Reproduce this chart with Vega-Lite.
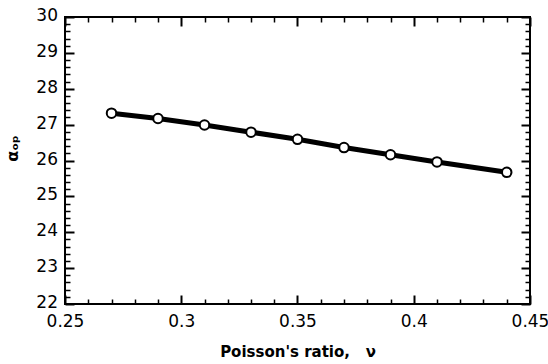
{
  "$schema": "https://vega.github.io/schema/vega-lite/v6.json",
  "width": 465,
  "height": 287,
  "autosize": {"type": "none"},
  "padding": {"left": 65, "top": 17, "right": 18, "bottom": 60},
  "background": "white",
  "config": {
    "view": {"stroke": "black", "strokeWidth": 2},
    "font": "DejaVu Sans",
    "axis": {"grid": false, "domain": false, "tickColor": "black", "labelColor": "black", "titleColor": "black"}
  },
  "data": {
    "values": [
      {"nu": 0.27, "alpha": 27.32},
      {"nu": 0.29, "alpha": 27.17},
      {"nu": 0.31, "alpha": 26.99},
      {"nu": 0.33, "alpha": 26.79},
      {"nu": 0.35, "alpha": 26.59},
      {"nu": 0.37, "alpha": 26.36},
      {"nu": 0.39, "alpha": 26.16},
      {"nu": 0.41, "alpha": 25.96},
      {"nu": 0.44, "alpha": 25.67}
    ]
  },
  "resolve": {"axis": {"x": "independent", "y": "independent"}},
  "layer": [
    {
      "mark": {"type": "line", "color": "black", "strokeWidth": 5},
      "encoding": {
        "x": {"field": "nu", "type": "quantitative", "scale": {"domain": [0.25, 0.45], "nice": false, "zero": false},
          "axis": {"orient": "bottom", "values": [0.25, 0.3, 0.35, 0.4, 0.45], "format": "~g", "offset": -9, "tickSize": 9, "tickWidth": 2,
            "labelFontSize": 17, "labelPadding": 9, "labelFlush": false, "title": "Poisson's ratio,\u00a0\u00a0\u00a0ν", "titleFontSize": 15, "titleFontWeight": "bold", "titlePadding": 15}},
        "y": {"field": "alpha", "type": "quantitative", "scale": {"domain": [22, 30], "nice": false, "zero": false},
          "axis": {"orient": "left", "values": [22, 23, 24, 25, 26, 27, 28, 29, 30], "offset": -9, "tickSize": 9, "tickWidth": 2,
            "labelFontSize": 17, "labelPadding": 7.5, "labelOffset": -1.5, "title": "αₒₚ", "titleFontSize": 16, "titleFontWeight": "bold", "titlePadding": 15, "titleY": 131}}
      }
    },
    {
      "mark": {"type": "point", "shape": "circle", "filled": true, "fill": "white", "stroke": "black", "strokeWidth": 2, "size": 90, "opacity": 1},
      "encoding": {
        "x": {"field": "nu", "type": "quantitative",
          "axis": {"orient": "bottom", "values": [0.26, 0.27, 0.28, 0.29, 0.31, 0.32, 0.33, 0.34, 0.36, 0.37, 0.38, 0.39, 0.41, 0.42, 0.43, 0.44], "offset": -5, "tickSize": 5, "tickWidth": 1.5, "labels": false, "title": null}},
        "y": {"field": "alpha", "type": "quantitative",
          "axis": {"orient": "left", "values": [22.2, 22.4, 22.6, 22.8, 23.2, 23.4, 23.6, 23.8, 24.2, 24.4, 24.6, 24.8, 25.2, 25.4, 25.6, 25.8, 26.2, 26.4, 26.6, 26.8, 27.2, 27.4, 27.6, 27.8, 28.2, 28.4, 28.6, 28.8, 29.2, 29.4, 29.6, 29.8], "offset": -5, "tickSize": 5, "tickWidth": 1.5, "labels": false, "title": null}}
      }
    },
    {
      "mark": {"type": "point", "opacity": 0},
      "encoding": {
        "x": {"field": "nu", "type": "quantitative",
          "axis": {"orient": "top", "values": [0.25, 0.3, 0.35, 0.4, 0.45], "offset": -9, "tickSize": 9, "tickWidth": 2, "labels": false, "title": null}},
        "y": {"field": "alpha", "type": "quantitative",
          "axis": {"orient": "right", "values": [22, 23, 24, 25, 26, 27, 28, 29, 30], "offset": -9, "tickSize": 9, "tickWidth": 2, "labels": false, "title": null}}
      }
    },
    {
      "mark": {"type": "point", "opacity": 0},
      "encoding": {
        "x": {"field": "nu", "type": "quantitative",
          "axis": {"orient": "top", "values": [0.26, 0.27, 0.28, 0.29, 0.31, 0.32, 0.33, 0.34, 0.36, 0.37, 0.38, 0.39, 0.41, 0.42, 0.43, 0.44], "offset": -5, "tickSize": 5, "tickWidth": 1.5, "labels": false, "title": null}},
        "y": {"field": "alpha", "type": "quantitative",
          "axis": {"orient": "right", "values": [22.2, 22.4, 22.6, 22.8, 23.2, 23.4, 23.6, 23.8, 24.2, 24.4, 24.6, 24.8, 25.2, 25.4, 25.6, 25.8, 26.2, 26.4, 26.6, 26.8, 27.2, 27.4, 27.6, 27.8, 28.2, 28.4, 28.6, 28.8, 29.2, 29.4, 29.6, 29.8], "offset": -5, "tickSize": 5, "tickWidth": 1.5, "labels": false, "title": null}}
      }
    }
  ]
}
